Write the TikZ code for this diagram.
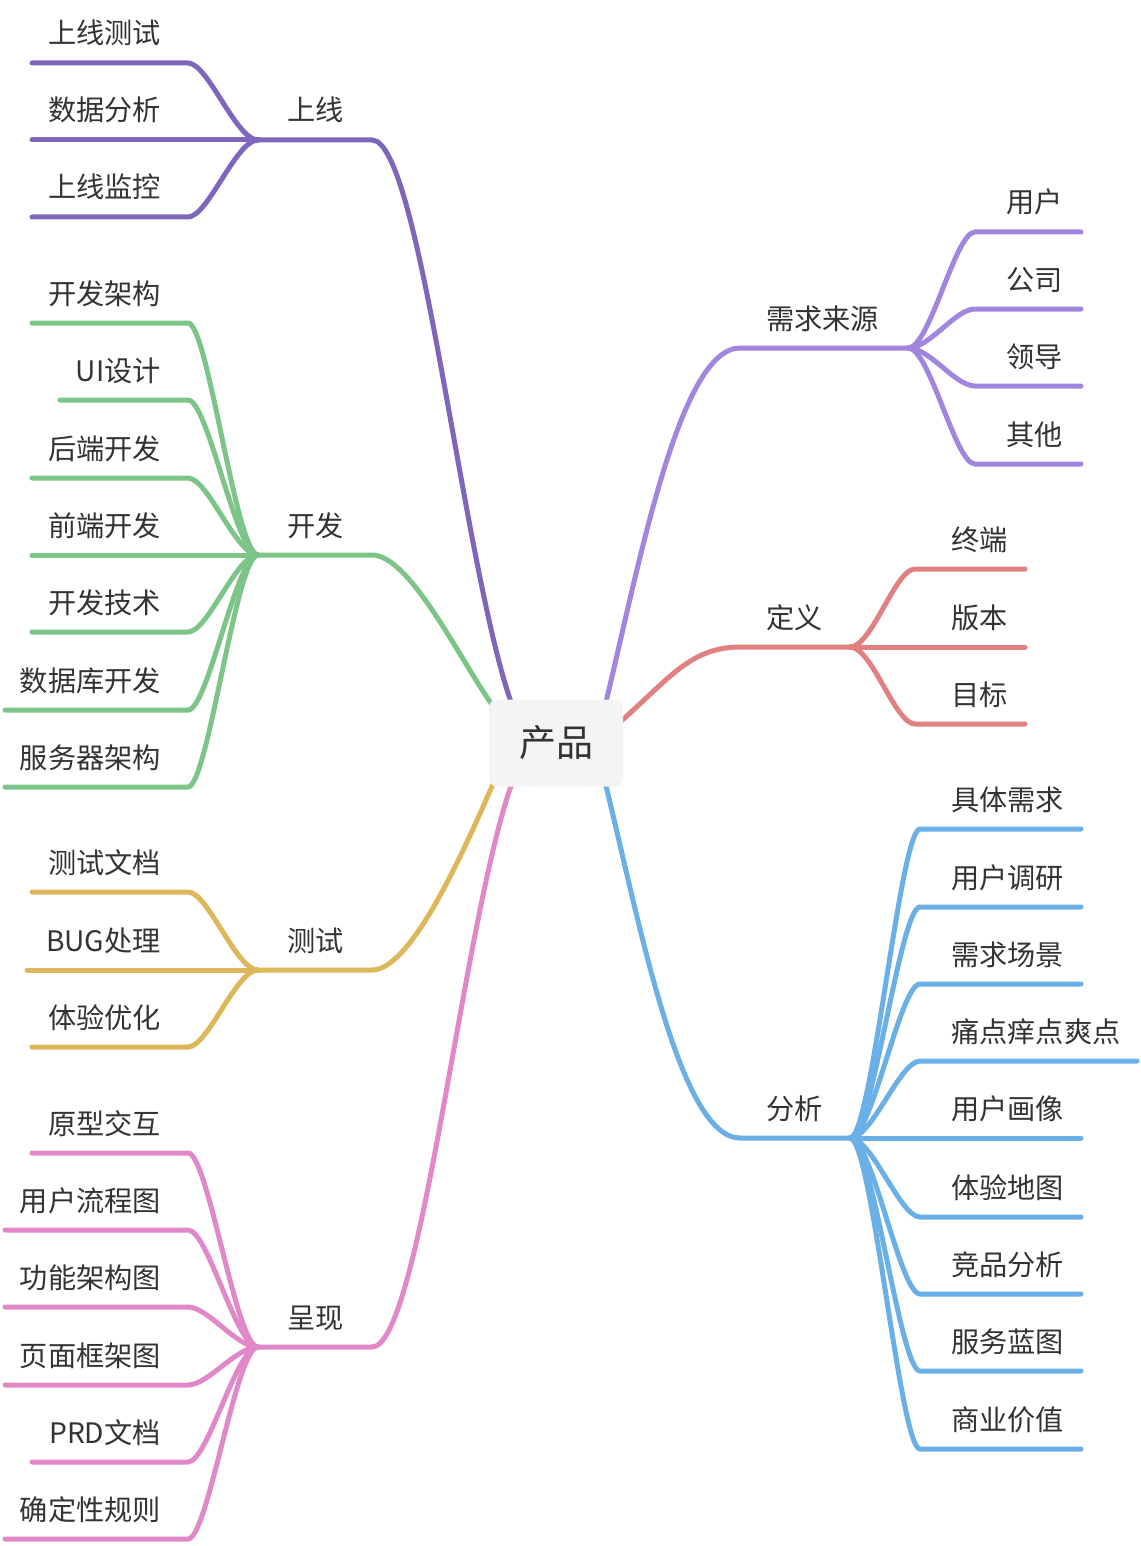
\documentclass[tikz,border=0pt]{standalone}
\usepackage{fontspec}
\setmainfont{Noto Sans CJK SC}
\definecolor{txt}{RGB}{51,51,51}
\definecolor{cSX}{RGB}{126,102,186}
\definecolor{cKF}{RGB}{124,196,136}
\definecolor{cCS}{RGB}{221,183,90}
\definecolor{cCX}{RGB}{224,136,200}
\definecolor{cXQ}{RGB}{161,134,224}
\definecolor{cDY}{RGB}{224,128,128}
\definecolor{cFX}{RGB}{106,175,230}
\definecolor{rootfill}{RGB}{244,244,244}
\begin{document}
\begin{tikzpicture}[x=1pt,y=-1pt,
  br/.style={line width=5pt, line cap=round},
  lbl/.style={inner sep=0pt, font=\fontsize{28.2}{28}\selectfont, text=txt},
  rootbox/.style={fill=rootfill, rounded corners=8pt, minimum width=134pt, minimum height=87pt, inner sep=0pt, font=\fontsize{37}{38}\selectfont, text=txt}]
\useasboundingbox[fill=white] (0,0) rectangle (1140,1546);

% ---------- main branches (left) ----------
\coordinate (rSX) at (511,702);
\coordinate (rKF) at (493,706);
\coordinate (rCS) at (493,784);
\coordinate (rCX) at (511,786);
\coordinate (rXQ) at (606,702);
\coordinate (rDY) at (620,722);
\coordinate (rFX) at (606,786);

\foreach \nm/\col/\jy/\lab in {SX/cSX/140/上线, KF/cKF/555/开发, CS/cCS/970/测试, CX/cCX/1347/呈现}{
  \coordinate (J\nm) at (258,\jy);
  \coordinate (E\nm) at (372,\jy);
  \node[lbl, anchor=base west] (t\nm) at (287,\jy-19) {\lab};
}
\draw[br, cSX] (rSX) .. controls (462,560) and (420,140) .. (ESX) -- (JSX);
\draw[br, cKF] (rKF) .. controls (460,660) and (410,555) .. (EKF) -- (JKF);
\draw[br, cCS] (rCS) .. controls (460,860) and (410,970) .. (ECS) -- (JCS);
\draw[br, cCX] (rCX) .. controls (462,927) and (420,1347) .. (ECX) -- (JCX);

% ---------- main branches (right) ----------
\foreach \nm/\jx/\jy/\lab in {XQ/908/348/需求来源, DY/850/647/定义, FX/850/1138/分析}{
  \coordinate (J\nm) at (\jx,\jy);
  \coordinate (E\nm) at (740,\jy);
  \node[lbl, anchor=base west] (t\nm) at (766,\jy-19) {\lab};
}
\draw[br, cXQ] (rXQ) .. controls (640,560) and (680,348) .. (EXQ) -- (JXQ);
\draw[br, cDY] (rDY) .. controls (668,680) and (690,647) .. (EDY) -- (JDY);
\draw[br, cFX] (rFX) .. controls (640,925) and (680,1138) .. (EFX) -- (JFX);

% ---------- left children ----------
\foreach \g/\col/\lst in {
  SX/cSX/{1/63/32/上线测试, 2/140/32/数据分析, 3/217/32/上线监控},
  KF/cKF/{1/323/32/开发架构, 2/400/60/UI设计, 3/478/32/后端开发, 4/555/32/前端开发, 5/632/32/开发技术, 6/710/5/数据库开发, 7/787/5/服务器架构},
  CS/cCS/{1/892/32/测试文档, 2/970/27/BUG处理, 3/1047/32/体验优化},
  CX/cCX/{1/1153/32/原型交互, 2/1230/5/用户流程图, 3/1307/5/功能架构图, 4/1385/5/页面框架图, 5/1462/32/PRD文档, 6/1539/5/确定性规则}}{
  \foreach \i/\y/\lx/\lab in \lst {
    \coordinate (L\g\i) at (\lx,\y);
    \coordinate (B\g\i) at (188,\y);
    \draw[br, \col] (L\g\i) -- (B\g\i) .. controls +(20,0) and +(-22,0) .. (J\g);
    \node[lbl, anchor=base east] (n\g\i) at (161,\y-19) {\lab};
  }
}

% ---------- right children ----------
\foreach \g/\col/\sx/\tx/\lst in {
  XQ/cXQ/975/1006/{1/232/1081/用户, 2/309/1081/公司, 3/386/1081/领导, 4/464/1081/其他},
  DY/cDY/915/951/{1/569/1025/终端, 2/647/1025/版本, 3/724/1025/目标},
  FX/cFX/920/951/{1/829/1081/具体需求, 2/907/1081/用户调研, 3/984/1081/需求场景, 4/1061/1137/痛点痒点爽点, 5/1138/1081/用户画像, 6/1217/1081/体验地图, 7/1294/1081/竞品分析, 8/1371/1081/服务蓝图, 9/1449/1081/商业价值}}{
  \foreach \i/\y/\ex/\lab in \lst {
    \coordinate (S\g\i) at (\sx,\y);
    \coordinate (R\g\i) at (\ex,\y);
    \draw[br, \col] (J\g) .. controls +(22,0) and +(-20,0) .. (S\g\i) -- (R\g\i);
    \node[lbl, anchor=base west] (n\g\i) at (\tx,\y-19) {\lab};
  }
}

% ---------- root ----------
\node[rootbox] (root) at (556,743) {产品};
\end{tikzpicture}
\end{document}
